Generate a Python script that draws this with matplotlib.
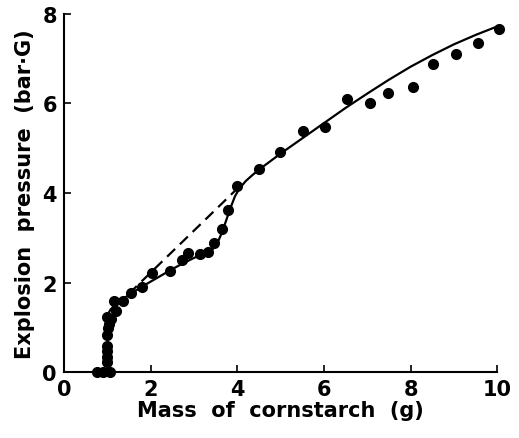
import matplotlib
matplotlib.use("Agg")
from matplotlib import pyplot as plt

# measured points
mass = [0.76, 0.9, 1.06, 0.99, 0.99, 0.99, 0.99, 0.99, 1.02, 1.04, 1.09, 0.99,
        1.2, 1.15, 1.36, 1.55, 1.8, 2.03, 2.45, 2.72, 2.86, 3.14, 3.33, 3.46,
        3.65, 3.79, 4.0, 4.5, 4.99, 5.52, 6.03, 6.54, 7.07, 7.48, 8.06, 8.52,
        9.05, 9.56, 10.05]
pressure = [0.0, 0.0, 0.0, 0.22, 0.33, 0.47, 0.58, 0.84, 0.98, 1.07, 1.18, 1.24,
            1.36, 1.58, 1.58, 1.76, 1.91, 2.22, 2.27, 2.51, 2.67, 2.64, 2.69, 2.89,
            3.2, 3.62, 4.16, 4.53, 4.91, 5.38, 5.47, 6.09, 6.02, 6.24, 6.36, 6.89,
            7.11, 7.36, 7.67]

# fitted curve (solid)
fit_x = [1.0, 1.0, 1.02, 1.08, 1.2, 1.35, 1.5, 1.75, 2.0, 2.25, 2.5, 2.75, 3.0,
         3.2, 3.35, 3.45, 3.55, 3.65, 3.75, 3.85, 3.95, 4.05, 4.2, 4.35, 4.5,
         4.75, 5.0, 5.5, 6.0, 6.5, 7.0, 7.5, 8.0, 8.5, 9.0, 9.5, 10.0]
fit_y = [0.0, 1.2, 1.3, 1.4, 1.52, 1.63, 1.72, 1.88, 2.02, 2.16, 2.3, 2.43, 2.55,
         2.62, 2.68, 2.76, 2.9, 3.12, 3.4, 3.68, 3.93, 4.1, 4.27, 4.4, 4.52,
         4.7, 4.88, 5.22, 5.56, 5.9, 6.22, 6.53, 6.82, 7.08, 7.32, 7.53, 7.72]

# extrapolated line (dashed)
dash_x = [1.5, 3.95]
dash_y = [1.75, 4.05]

plt.rcParams['font.family'] = 'DejaVu Sans'
plt.rcParams['font.weight'] = 'bold'

fig = plt.figure(figsize=(5.19, 4.39), dpi=100)
ax = fig.add_axes([0.123, 0.150, 0.835, 0.816])

ax.plot(fit_x, fit_y, color='black', lw=1.6)
ax.plot(dash_x, dash_y, color='black', lw=1.6, linestyle=(0, (5, 3)))
ax.plot(mass, pressure, 'o', color='black', markersize=7, clip_on=False)

ax.set_xlim(0, 10)
ax.set_ylim(0, 8)
ax.set_xticks([0, 2, 4, 6, 8, 10])
ax.set_yticks([0, 2, 4, 6, 8])
ax.tick_params(direction='in', length=5, width=1.2, labelsize=15, pad=5)
for s in ['top', 'right']:
    ax.spines[s].set_visible(False)
for s in ['left', 'bottom']:
    ax.spines[s].set_linewidth(1.5)

ax.set_xlabel('Mass  of  cornstarch  (g)', fontsize=15, fontweight='bold', labelpad=1)
ax.set_ylabel('Explosion  pressure  (bar·G)', fontsize=15, fontweight='bold', labelpad=5)

fig.savefig('out.png', dpi=100)
